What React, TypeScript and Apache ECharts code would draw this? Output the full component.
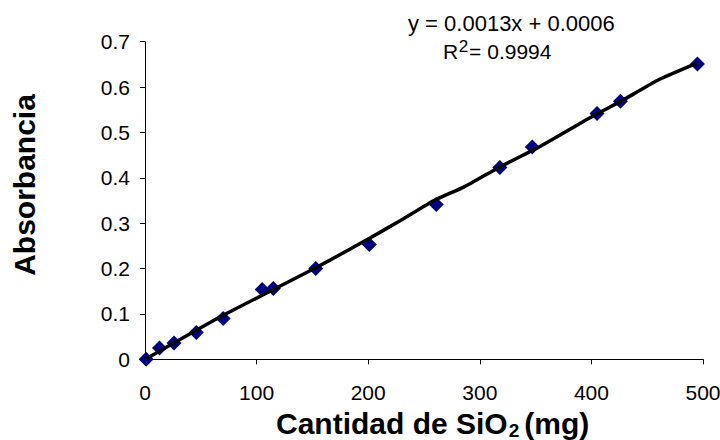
import React, { useEffect, useRef } from "react";
import * as echarts from "echarts";

// Measured points: SiO2 amount (mg) vs absorbance
const sampleMg = [1, 13, 26, 46, 70, 105, 115, 153, 201, 261, 318, 347, 405, 426, 495];
const absorbance = [0.0, 0.025, 0.036, 0.059, 0.09, 0.154, 0.156, 0.2, 0.253, 0.341, 0.423, 0.468, 0.542, 0.569, 0.651];

// Black calibration curve as drawn in the picture
const curveMg = [1, 70, 154, 202, 229, 259, 286, 318, 354, 405, 426, 459, 494];
const curveAbs = [0.001, 0.097, 0.203, 0.268, 0.306, 0.35, 0.38, 0.424, 0.469, 0.541, 0.568, 0.6145, 0.652];

const xMin = 0;
const xMax = 500;
const xStep = 100;
const yMin = 0;
const yMax = 0.7;
const yStep = 0.1;

const equationText = "y = 0.0013x + 0.0006";
const r2Label = "R";
const r2Exp = "2";
const r2Value = "= 0.9994";
const yTitle = "Absorbancia";
const xTitleMain = "Cantidad de SiO";
const xTitleSub = "2";
const xTitleUnit = "(mg)";

const FONT = "'Liberation Sans', Arial, Helvetica, sans-serif";

function measure(text: string, font: string): number {
  const c = document.createElement("canvas");
  const ctx = c.getContext("2d");
  if (!ctx) return text.length * 10;
  ctx.font = font;
  return ctx.measureText(text).width;
}

export default function App() {
  const ref = useRef<HTMLDivElement>(null);

  useEffect(() => {
    if (!ref.current) return;
    const chart = echarts.init(ref.current, undefined, { renderer: "svg" });

    const scatterData = sampleMg.map((x, i) => [x, absorbance[i]]);
    const curveData = curveMg.map((x, i) => [x, curveAbs[i]]);

    const titleFont = `bold 30px ${FONT}`;
    const mainW = measure(xTitleMain, titleFont);
    const subW = measure(xTitleSub, `bold 19px ${FONT}`);
    const titleLeft = 276;
    const subLeft = titleLeft + mainW + 1;
    const unitLeft = subLeft + subW + 5;

    const rLeft = 443;
    const rW = measure(r2Label, `21px ${FONT}`);
    const expLeft = rLeft + rW + 0.5;
    const expW = measure(r2Exp, `17px ${FONT}`);
    const valLeft = expLeft + expW + 1;

    const option: any = {
      animation: false,
      backgroundColor: "#ffffff",
      grid: {
        left: 145,
        right: 17,
        top: 41.7,
        bottom: 80.7,
        containLabel: false,
        outerBoundsMode: "none",
      },
      xAxis: {
        type: "value",
        min: xMin,
        max: xMax,
        interval: xStep,
        splitLine: { show: false },
        axisLine: { show: true, onZero: false, lineStyle: { color: "#000", width: 1 } },
        axisTick: { show: true, length: 5, inside: false, lineStyle: { color: "#000" } },
        axisLabel: {
          margin: 23,
          fontFamily: FONT,
          fontSize: 21,
          color: "#000",
        },
      },
      yAxis: {
        type: "value",
        min: yMin,
        max: yMax,
        interval: yStep,
        splitLine: { show: false },
        axisLine: { show: true, onZero: false, lineStyle: { color: "#000", width: 1 } },
        axisTick: { show: true, length: 5, inside: false, lineStyle: { color: "#000" } },
        axisLabel: {
          margin: 15,
          fontFamily: FONT,
          fontSize: 21,
          color: "#000",
          formatter: (v: number) => (Math.abs(v) < 1e-9 ? "0" : (+v.toFixed(1)).toString()),
        },
      },
      series: [
        {
          type: "scatter",
          data: scatterData,
          symbol: "diamond",
          symbolSize: 15,
          itemStyle: { color: "#000080", opacity: 1 },
          z: 2,
        },
        {
          type: "line",
          data: curveData,
          showSymbol: false,
          symbol: "none",
          smooth: 0.15,
          lineStyle: { color: "#000", width: 3.5 },
          z: 3,
        },
      ],
      graphic: [
        {
          type: "text",
          x: 408,
          y: 23,
          style: {
            text: equationText,
            fontFamily: FONT,
            fontSize: 22,
            fill: "#000",
            align: "left",
            verticalAlign: "middle",
          },
        },
        {
          type: "text",
          x: rLeft,
          y: 51,
          style: {
            text: r2Label,
            fontFamily: FONT,
            fontSize: 21,
            fill: "#000",
            align: "left",
            verticalAlign: "middle",
          },
        },
        {
          type: "text",
          x: expLeft,
          y: 46,
          style: {
            text: r2Exp,
            fontFamily: FONT,
            fontSize: 17,
            fill: "#000",
            align: "left",
            verticalAlign: "middle",
          },
        },
        {
          type: "text",
          x: valLeft,
          y: 51,
          style: {
            text: r2Value,
            fontFamily: FONT,
            fontSize: 21,
            fill: "#000",
            align: "left",
            verticalAlign: "middle",
          },
        },
        {
          type: "text",
          x: 24,
          y: 185,
          rotation: Math.PI / 2,
          style: {
            text: yTitle,
            fontFamily: FONT,
            fontSize: 30,
            fontWeight: "bold",
            fill: "#000",
            align: "center",
            verticalAlign: "middle",
          },
        },
        {
          type: "text",
          x: titleLeft,
          y: 423,
          style: {
            text: xTitleMain,
            fontFamily: FONT,
            fontSize: 30,
            fontWeight: "bold",
            fill: "#000",
            align: "left",
            verticalAlign: "middle",
          },
        },
        {
          type: "text",
          x: subLeft,
          y: 430,
          style: {
            text: xTitleSub,
            fontFamily: FONT,
            fontSize: 19,
            fontWeight: "bold",
            fill: "#000",
            align: "left",
            verticalAlign: "middle",
          },
        },
        {
          type: "text",
          x: unitLeft,
          y: 423,
          style: {
            text: xTitleUnit,
            fontFamily: FONT,
            fontSize: 30,
            fontWeight: "bold",
            fill: "#000",
            align: "left",
            verticalAlign: "middle",
          },
        },
      ],
    };

    chart.setOption(option);
    return () => {
      chart.dispose();
    };
  }, []);

  return (
    <div
      ref={ref}
      style={{ position: "fixed", left: 0, top: 0, width: 720, height: 440, background: "#fff" }}
    />
  );
}
